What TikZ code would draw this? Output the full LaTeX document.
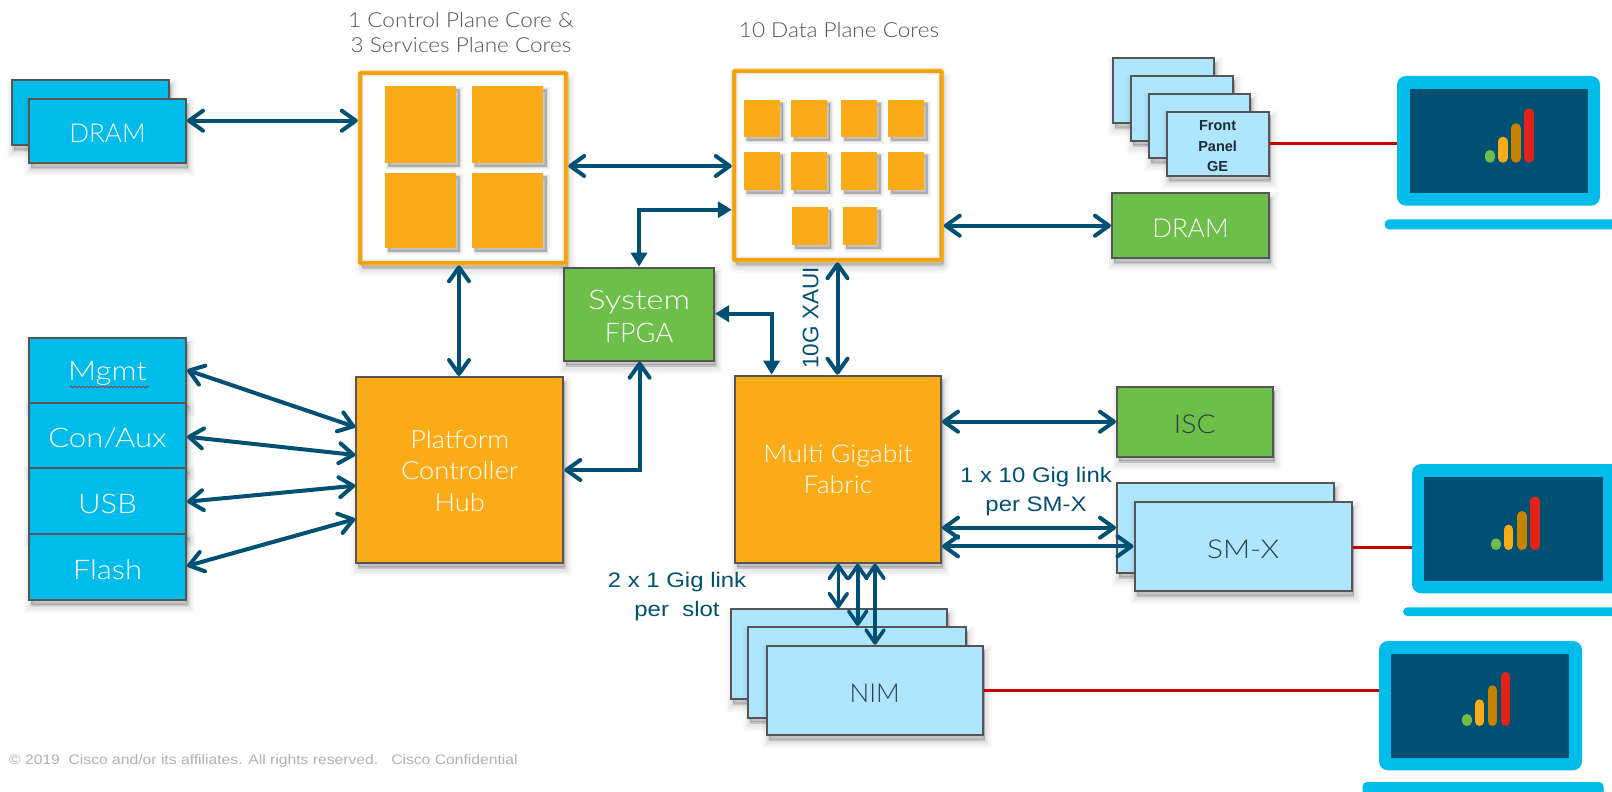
\documentclass[tikz,border=0pt]{standalone}
\usepackage{fontspec}
\setmainfont{Liberation Sans}
\newfontfamily\thinf{Lato Light}
\newfontfamily\thinm[FakeStretch=1.09]{Lato Light}
\newfontfamily\thinw[FakeStretch=1.15]{Lato Light}
\newfontfamily\thinx[FakeStretch=1.22]{Lato Light}
\newfontfamily\navyf[FakeStretch=1.14]{Liberation Sans}
\usetikzlibrary{arrows.meta,shadows,decorations.pathmorphing}
\definecolor{cOrange}{HTML}{FBAB18}
\definecolor{cCyan}{HTML}{00BCEB}
\definecolor{cGreen}{HTML}{6EBE4A}
\definecolor{cLight}{HTML}{AEE5FF}
\definecolor{cNavy}{HTML}{005073}
\definecolor{cRed}{HTML}{C80000}
\definecolor{cEdge}{HTML}{555555}
\definecolor{cTitle}{HTML}{4F5458}
\definecolor{cDarkText}{HTML}{2B3D47}
\definecolor{cCopy}{HTML}{B0B0B0}
\definecolor{cBarD}{HTML}{C78200}
\definecolor{cBarR}{HTML}{E2231A}
\tikzset{
  softshadow/.style={
    drop shadow={shadow xshift=2pt,shadow yshift=-6pt,opacity=.025,fill=black,draw=black,line width=14pt},
    drop shadow={shadow xshift=2pt,shadow yshift=-6pt,opacity=.03,fill=black,draw=black,line width=10pt},
    drop shadow={shadow xshift=2pt,shadow yshift=-6pt,opacity=.04,fill=black,draw=black,line width=6pt},
    drop shadow={shadow xshift=2pt,shadow yshift=-5pt,opacity=.05,fill=black,draw=black,line width=3pt},
    drop shadow={shadow xshift=2pt,shadow yshift=-4pt,opacity=.06,fill=black,draw=black,line width=.5pt}},
  coreshadow/.style={
    drop shadow={shadow xshift=4pt,shadow yshift=-4pt,opacity=.05,fill=black,draw=black,line width=6pt},
    drop shadow={shadow xshift=3.5pt,shadow yshift=-3.5pt,opacity=.08,fill=black,draw=black,line width=3pt},
    drop shadow={shadow xshift=3pt,shadow yshift=-3pt,opacity=.10,fill=black,draw=black,line width=.5pt}},
  block/.style={draw=cEdge,line width=2pt,inner sep=0pt,align=center,text=white,softshadow},
  cyanbox/.style={block,fill=cCyan},
  greenbox/.style={block,fill=cGreen},
  orangebox/.style={block,fill=cOrange},
  lightbox/.style={block,fill=cLight,text=cDarkText},
  framebox/.style={draw=cOrange,line width=4.5pt,fill=white,inner sep=0pt,rounded corners=1pt,softshadow},
  corebox/.style={fill=cOrange,inner sep=0pt,coreshadow},
  innerglow/.style={draw=black,opacity=.05,line width=5pt},
  bigtext/.style={font=\thinf\fontsize{26}{31}\selectfont},
  widetext/.style={font=\thinw\fontsize{27}{31}\selectfont},
  titletext/.style={text=cTitle,font=\thinm\fontsize{20.7}{25.5}\selectfont,align=center,inner sep=0pt},
  navytext/.style={text=cNavy,font=\navyf\fontsize{21}{28.5}\selectfont,align=center,inner sep=0pt},
  link/.style={draw=cNavy,line width=4pt,{Straight Barb[length=14pt,width=20pt,line width=4pt,round]}-{Straight Barb[length=14pt,width=20pt,line width=4pt,round]}},
  solidlink/.style={draw=cNavy,line width=4pt,{Triangle[length=14pt,width=16pt]}-{Triangle[length=14pt,width=16pt]}},
  thinlink/.style={draw=cNavy,line width=3.6pt,{Straight Barb[length=13pt,width=18pt,line width=3.6pt,round]}-{Straight Barb[length=13pt,width=18pt,line width=3.6pt,round]}},
  wire/.style={draw=cRed,line width=3.5pt},
  laptopbody/.style={fill=cCyan,rounded corners=9pt,inner sep=0pt},
  laptopscreen/.style={fill=cNavy,inner sep=0pt},
  laptopbase/.style={fill=cCyan,rounded corners=4.5pt,inner sep=0pt},
  sigbar/.style={line width=9.5pt,line cap=round},
}
\newcommand{\dn}[1]{\raisebox{-2.6pt}[\height][\depth]{#1}}
\newcommand{\dnb}[1]{\raisebox{-1pt}[\height][\depth]{#1}}
% style, name, x1, y1, x2, y2, text
\newcommand{\bxx}[7]{%
  \pgfmathsetmacro{\bw}{#5-(#3)}\pgfmathsetmacro{\bh}{#6-(#4)}%
  \node[#1,minimum width=\bw pt,minimum height=\bh pt] (#2) at ({(#3+#5)/2},{(#4+#6)/2}) {#7};}
\newcommand{\sigb}[4]{\draw[sigbar,draw=#1] (#2,#4-4.75) -- (#2,#3+4.75);}
\begin{document}
\begin{tikzpicture}[x=1pt,y=-1pt]
\useasboundingbox (0,0) rectangle (1612,792);

% titles
\node[titletext] (ttlA) at (461,32.5) {1 Control Plane Core \&\\3 Services Plane Cores};
\node[titletext] (ttlB) at (839,30.5) {10 Data Plane Cores};

% DRAM left
\bxx{cyanbox}{dramback}{11.5}{80}{169}{145}{}
\bxx{cyanbox,bigtext}{dram}{29}{99}{186}{163}{\dn{DRAM}}

% control plane
\bxx{framebox}{ctrl}{360}{73}{566}{263}{}
\draw[innerglow] ([shift={(4,4)}]ctrl.north west) rectangle ([shift={(-4,-4)}]ctrl.south east);
\bxx{corebox}{ca}{385}{86}{456}{163}{}
\bxx{corebox}{cb}{471.5}{86}{543}{163}{}
\bxx{corebox}{cc}{385}{173}{456}{248}{}
\bxx{corebox}{cd}{471.5}{173}{543}{248}{}

% data plane
\bxx{framebox}{data}{734}{71}{941.5}{260}{}
\draw[innerglow] ([shift={(4,4)}]data.north west) rectangle ([shift={(-4,-4)}]data.south east);
\bxx{corebox}{d1}{743.7}{99.5}{779.7}{137}{}
\bxx{corebox}{d2}{790.8}{99.5}{826.7}{137}{}
\bxx{corebox}{d3}{841.3}{99.5}{877.3}{137}{}
\bxx{corebox}{d4}{888.4}{99.5}{924.3}{137}{}
\bxx{corebox}{d5}{743.7}{151.7}{779.7}{190}{}
\bxx{corebox}{d6}{790.8}{151.7}{826.7}{190}{}
\bxx{corebox}{d7}{841.3}{151.7}{877.3}{190}{}
\bxx{corebox}{d8}{888.4}{151.7}{924.3}{190}{}
\bxx{corebox}{d9}{792}{207}{827.5}{245}{}
\bxx{corebox}{d10}{843}{207}{877}{245}{}

% front panel
\bxx{lightbox}{fp1}{1113}{58.3}{1214}{123}{}
\bxx{lightbox}{fp2}{1131}{76}{1232.7}{140.7}{}
\bxx{lightbox}{fp3}{1149}{94}{1250}{158}{}
\bxx{lightbox,font=\fontsize{14.5}{20.5}\selectfont\bfseries,text=cDarkText!70!black}{fp4}{1166.5}{111.7}{1268.7}{176}{\dn{Front}\\\dn{Panel}\\\dn{GE}}

% green
\bxx{greenbox,bigtext}{dramg}{1112}{193.3}{1269}{258.3}{\dn{DRAM}}
\bxx{greenbox,font=\thinf\fontsize{27}{33}\selectfont}{fpga}{564}{267.7}{714}{360.7}{\dn{\thinx System}\\\dn{FPGA}}
\bxx{greenbox,font=\thinm\fontsize{26}{31}\selectfont,text=cDarkText}{isc}{1117}{386.7}{1272.6}{456.7}{\dn{ISC}}

% left IO stack
\bxx{cyanbox,widetext}{mgmt}{29}{338.3}{186}{402.7}{\dn{Mgmt}}
\bxx{cyanbox,widetext}{conaux}{29}{402.7}{186}{468.3}{\dn{Con/Aux}}
\bxx{cyanbox,widetext}{usb}{29}{468.3}{186}{534}{\dn{USB}}
\bxx{cyanbox,widetext}{flash}{29}{534}{186}{600}{\dn{Flash}}
\draw[red!75!black,opacity=.7,line width=.8pt,decorate,decoration={snake,amplitude=.7pt,segment length=4pt}] (mgmt.west -| 70,0) ++(0,16.5) -- ++(78.5,0);

% orange
\bxx{orangebox,font=\thinm\fontsize{25}{31.5}\selectfont}{pch}{356.3}{377}{563.3}{562.7}{\dnb{Platform}\\\dnb{Controller}\\\dnb{Hub}}
\bxx{orangebox,font=\thinm\fontsize{24.5}{31}\selectfont}{fabric}{735}{375.7}{941}{562.7}{Multi Gigabit\\Fabric}

% SM-X
\bxx{lightbox}{smxb}{1117}{483.3}{1334}{572.7}{}
\bxx{lightbox,font=\thinw\fontsize{26}{31}\selectfont}{smx}{1134.5}{502}{1351.6}{591.3}{\dn{SM-X}}

% NIM
\bxx{lightbox}{nima}{731.3}{609.3}{947}{699}{}
\bxx{lightbox}{nimb}{748.3}{627}{965.7}{717.7}{}
\bxx{lightbox,bigtext}{nim}{766.7}{645.7}{982.7}{735}{\dn{NIM}}

% laptops
\bxx{laptopbody}{lapa}{1397}{76}{1600}{205.7}{}
\bxx{laptopscreen}{scra}{1409.5}{89}{1588}{193}{}
\bxx{laptopbase}{basa}{1384.7}{219.3}{1625}{229.3}{}
\sigb{cGreen}{1490}{150}{162.7}
\sigb{cOrange}{1502.8}{136.7}{162.7}
\sigb{cBarD}{1516}{123.3}{162.7}
\sigb{cBarR}{1529}{108.3}{162.7}

\bxx{laptopbody}{lapb}{1412}{464}{1625}{593.3}{}
\bxx{laptopscreen}{scrb}{1424.4}{476.7}{1602.7}{580.7}{}
\bxx{laptopbase}{basb}{1403}{607.3}{1625}{616}{}
\sigb{cGreen}{1496}{538.3}{550}
\sigb{cOrange}{1508.7}{524.7}{550}
\sigb{cBarD}{1522}{511}{550}
\sigb{cBarR}{1535}{496.3}{550}

\bxx{laptopbody}{lapc}{1379}{641}{1582}{770.3}{}
\bxx{laptopscreen}{scrc}{1391}{653.7}{1569}{757.7}{}
\bxx{laptopbase}{basc}{1362.6}{782}{1603.6}{800}{}
\sigb{cGreen}{1467}{714}{726}
\sigb{cOrange}{1479.6}{699.3}{726}
\sigb{cBarD}{1492.4}{685.3}{726}
\sigb{cBarR}{1505.6}{672}{726}

% connectors
\draw[link] (dram.east |- 0,120.7) -- (ctrl.west |- 0,120.7);
\draw[link] (ctrl.east |- 0,166) -- (data.west |- 0,166);
\draw[link] (ctrl.south -| 459,0) -- (pch.north -| 459,0);
\draw[link] (data.east |- 0,225.7) -- (dramg.west |- 0,225.7);
\draw[link] (data.south -| 837.5,0) -- (fabric.north -| 837.5,0);
\draw[solidlink] (fpga.north) -- (fpga.north |- 0,209.7) -- (data.west |- 0,209.7);
\draw[solidlink] (fpga.east |- 0,313.7) -- (771.6,313.7) -- (fabric.north -| 771.6,0);
\draw[link] (pch.east |- 0,470) -- (639.6,470) -- (fpga.south -| 639.6,0);
\draw[link] (mgmt.east |- 0,370) -- (pch.west |- 0,427);
\draw[link] (conaux.east |- 0,436.7) -- (pch.west |- 0,455);
\draw[link] (usb.east |- 0,501.7) -- (pch.west |- 0,485.7);
\draw[link] (flash.east |- 0,566) -- (pch.west |- 0,519);
\draw[link] (fabric.east |- 0,421.7) -- (isc.west |- 0,421.7);
\draw[link] (fabric.east |- 0,527.7) -- (smxb.west |- 0,527.7);
\draw[link] (fabric.east |- 0,546.3) -- (smx.west |- 0,546.3);
\draw[thinlink] (fabric.south -| 838.3,0) -- (nima.north -| 838.3,0);
\draw[thinlink] (fabric.south -| 857.7,0) -- (nimb.north -| 857.7,0);
\draw[thinlink] (fabric.south -| 875,0) -- (nim.north -| 875,0);
\draw[wire] (fp4.east |- 0,143.3) -- (lapa.west |- 0,143.3);
\draw[wire] (smx.east |- 0,547.3) -- (lapb.west |- 0,547.3);
\draw[wire] (nim.east |- 0,690.7) -- (lapc.west |- 0,690.7);

% labels
\node[text=cNavy,font=\fontsize{22.5}{28}\selectfont,inner sep=0pt,rotate=90] (xaui) at (810.7,318) {10G XAUI};
\node[navytext] (lblA) at (1036,491.5) {1 x 10 Gig link\\per SM-X};
\node[navytext] (lblB) at (677,596.5) {2 x 1 Gig link\\per\ \ slot};
\node[text=cCopy,font=\navyf\fontsize{13.75}{15}\selectfont,anchor=west,inner sep=0pt] (copy) at (9,760.5) {© 2019\ \ Cisco and/or its affiliates. All rights reserved.\ \ \ Cisco Confidential};
\end{tikzpicture}
\end{document}
